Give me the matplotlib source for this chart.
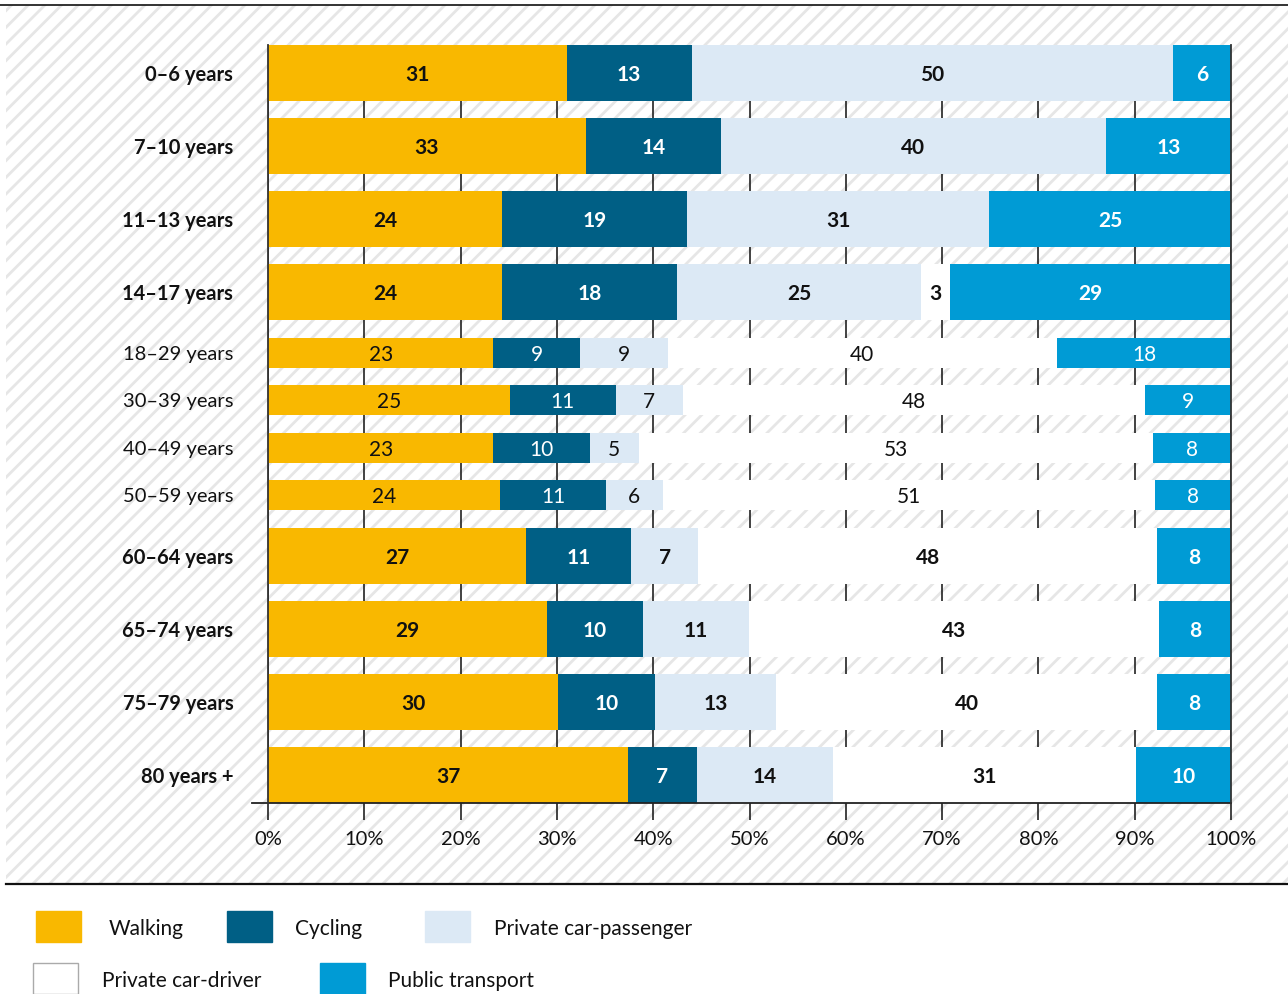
import matplotlib.pyplot as plt
import numpy as np
from matplotlib.patches import Rectangle
from matplotlib.lines import Line2D

plt.rcParams['font.family'] = ['Lato', 'DejaVu Sans']
plt.rcParams['hatch.linewidth'] = 2.0

# data (shares in %)
age_groups = ['0–6 years', '7–10 years', '11–13 years', '14–17 years', '18–29 years',
              '30–39 years', '40–49 years', '50–59 years', '60–64 years', '65–74 years',
              '75–79 years', '80 years +']
bold_rows = [True, True, True, True, False, False, False, False, True, True, True, True]
modes = ['Walking', 'Cycling', 'Private car-passenger', 'Private car-driver', 'Public transport']
walking = [31, 33, 24.3, 24.3, 23.4, 25.1, 23.4, 24.1, 26.8, 29.0, 30.1, 37.4]
cycling = [13, 14, 19.2, 18.2, 9.0, 11.0, 10.0, 11.0, 10.9, 9.9, 10.1, 7.1]
car_passenger = [50, 40, 31.4, 25.3, 9.1, 7.0, 5.1, 5.9, 7.0, 11.0, 12.6, 14.2]
car_driver = [0, 0, 0, 3.0, 40.4, 48.0, 53.4, 51.1, 47.6, 42.6, 39.5, 31.4]
public_transport = [6, 13, 25.1, 29.2, 18.1, 8.9, 8.1, 7.9, 7.7, 7.5, 7.7, 9.9]
series = [walking, cycling, car_passenger, car_driver, public_transport]

colors = ['#F9B800', '#005F85', '#DCE9F5', '#FFFFFF', '#009BD5']
text_colors = ['#111111', 'white', '#111111', '#111111', 'white']

W, H = 1288, 994
fig = plt.figure(figsize=(W / 100, H / 100), dpi=100)

# hatched background panel
fig.add_artist(Rectangle((6 / W, 1 - 884 / H), 1 - 6 / W, 879 / H, transform=fig.transFigure,
                         facecolor='white', edgecolor='#e6e6e6', hatch='//', linewidth=0, zorder=-5))
fig.add_artist(Line2D([0, 1], [1 - 5 / H] * 2, color='#111111', lw=1.2, transform=fig.transFigure))
fig.add_artist(Line2D([6 / W, 1], [1 - 884 / H] * 2, color='#111111', lw=1.6, transform=fig.transFigure))

# bar layout: thick bars for bold rows, thin for the others
thick, thin, gap = 55.5, 30, 17.6
heights = np.where(bold_rows, thick, thin)
tops = np.concatenate([[0], np.cumsum(heights + gap)[:-1]])
centers = tops + heights / 2
total = tops[-1] + heights[-1]

ax = fig.add_axes([268 / W, 1 - 803 / H, (1231 - 268) / W, (803 - 45) / H])
ax.set_facecolor('none')
ax.set_xlim(0, 100)
ax.set_ylim(total, 0)
ax.set_axisbelow(True)
ax.grid(axis='x', color='#222222', lw=1.2)

left = np.zeros(len(age_groups))
for vals, col, tcol in zip(series, colors, text_colors):
    vals = np.array(vals, dtype=float)
    ax.barh(centers, vals, left=left, height=heights, color=col, linewidth=0)
    for i, v in enumerate(vals):
        if v > 0:
            ax.text(left[i] + v / 2, centers[i], f"{round(v)}", ha='center', va='center_baseline',
                    color=tcol, fontsize=15, fontweight='bold' if bold_rows[i] else 'normal')
    left += vals

for s in ['top', 'bottom']:
    ax.spines[s].set_visible(False)
for s in ['left', 'right']:
    ax.spines[s].set_color('#333333')
    ax.spines[s].set_linewidth(1.3)
ax.plot([-1.66, 100], [total, total], color='#222222', lw=1.3, clip_on=False)

ax.set_xticks(np.arange(0, 101, 10))
ax.set_xticklabels([f"{t}%" for t in range(0, 101, 10)])
ax.tick_params(axis='x', length=12, width=1.2, color='#222222', pad=8, labelsize=14.5,
               labelcolor='#111111')
ax.set_yticks(centers)
ax.set_yticklabels(age_groups)
ax.tick_params(axis='y', length=0, pad=25, labelsize=14.5, labelcolor='#111111')
for lab, b in zip(ax.get_yticklabels(), bold_rows):
    lab.set_fontweight('bold' if b else 'normal')
    lab.set_verticalalignment('center_baseline')

# legend, drawn by hand in two rows
legend_pos = [(36, 911, 109), (227, 911, 295), (425, 911, 494), (33, 963, 102), (320, 963, 388)]
for name, col, (bx, by, tx) in zip(modes, colors, legend_pos):
    ec = '#aaaaaa' if col == '#FFFFFF' else col
    fig.add_artist(Rectangle((bx / W, 1 - (by + 31) / H), 45 / W, 31 / H, transform=fig.transFigure,
                             facecolor=col, edgecolor=ec, lw=1))
    fig.text(tx / W, 1 - (by + 16) / H, name, ha='left', va='center_baseline', fontsize=15,
             color='#111111')

fig.savefig('out.png', dpi=100)
